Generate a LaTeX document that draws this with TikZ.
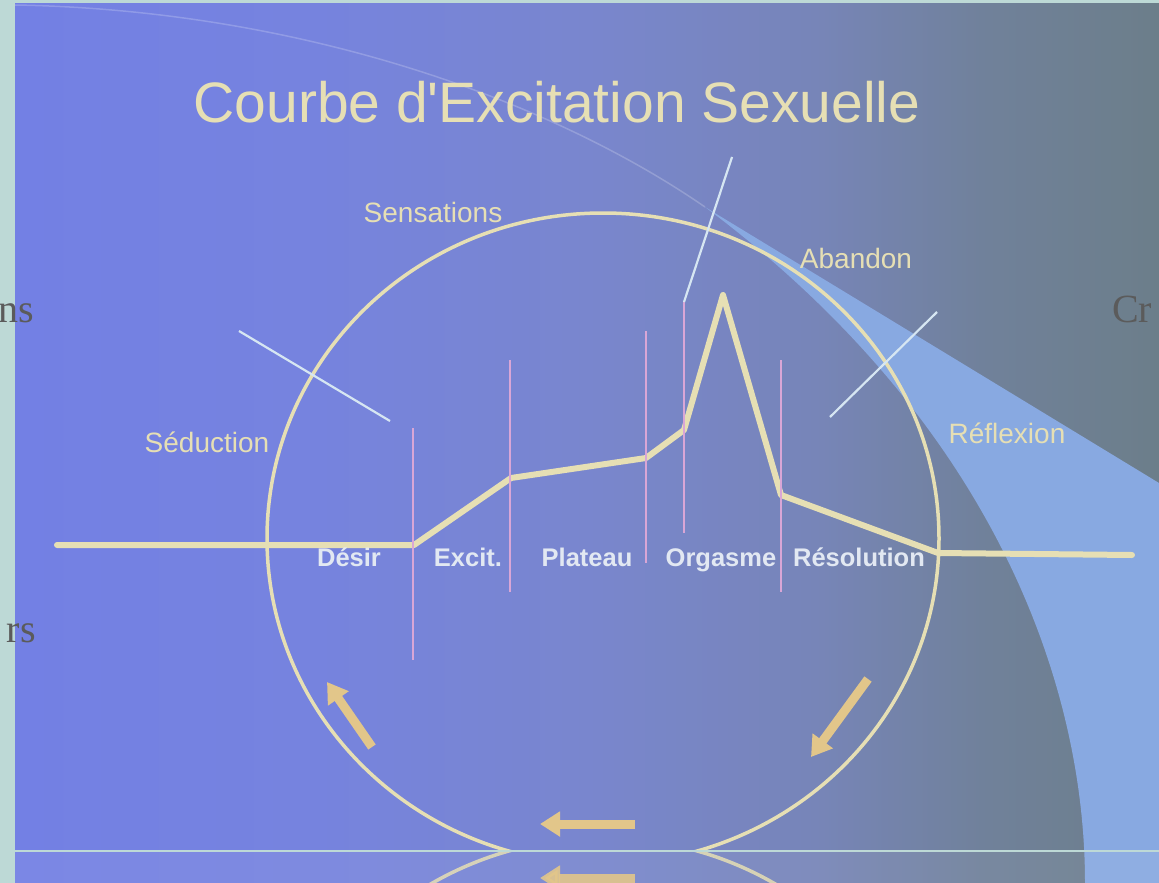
\documentclass[tikz,border=0pt]{standalone}
\usepackage{fontspec}
\setmainfont{Liberation Sans}
\newfontfamily\sidefont{Liberation Serif}
\usetikzlibrary{arrows.meta}

\definecolor{frameteal}{HTML}{BDD9D6}
\definecolor{slideblue}{HTML}{7380E4}
\definecolor{slideblueb}{HTML}{7683DF}
\definecolor{slidemid}{HTML}{7986CE}
\definecolor{slidemidb}{HTML}{7785B8}
\definecolor{slidegreyb}{HTML}{70819A}
\definecolor{slidegrey}{HTML}{6C7E8A}
\definecolor{swooshblue}{HTML}{88A9E1}
\definecolor{cream}{HTML}{E6DFB4}
\definecolor{phasepink}{HTML}{D9A6D6}
\definecolor{tickwhite}{HTML}{D6E6F2}
\definecolor{labelwhite}{HTML}{E2E8F2}
\definecolor{arrowtan}{HTML}{E2C68A}
\definecolor{sidegrey}{HTML}{5B5B5B}

% visible part of a TikZ shading runs from 25bp to 75bp
\pgfdeclarehorizontalshading{slidebg}{100bp}{color(0bp)=(slideblue); color(25bp)=(slideblue);
  color(37.5bp)=(slideblueb); color(50bp)=(slidemid); color(60bp)=(slidemidb);
  color(67.5bp)=(slidegreyb); color(75bp)=(slidegrey); color(100bp)=(slidegrey)}

\tikzset{
  titletext/.style={text=cream, font=\fontsize{57}{60}\selectfont, inner sep=0pt},
  labeltext/.style={text=cream, font=\fontsize{28}{30}\selectfont, inner sep=0pt},
  phasetext/.style={text=labelwhite, font=\fontsize{25.5}{28}\selectfont\bfseries, inner sep=0pt},
  phaseline/.style={draw=phasepink, line width=2.5pt},
  tickline/.style={draw=tickwhite, line width=2.2pt},
  curveline/.style={draw=cream, line width=6pt, line join=round, line cap=round},
  cyclearrow/.style={draw=arrowtan, line width=9pt, -{Triangle[length=20pt,width=24pt]}},
  sidetext/.style={text=sidegrey, font=\sidefont\fontsize{40}{42}\selectfont, inner sep=0pt}
}

\begin{document}
\begin{tikzpicture}[x=1pt,y=-1pt]
\useasboundingbox (0,0) rectangle (1159,883);

% Frame and slide background
\fill[frameteal] (0,0) rectangle (1159,883);
\shade[shading=slidebg] (15,4) rectangle (1159,883);

% Swoosh on the right
\fill[swooshblue] (705,207) -- (1159,483) -- (1159,883) -- (1085,883)
  .. controls (1085,680) and (990,420) .. (705,207) -- cycle;
\draw[white, opacity=0.2, line width=1.5pt] (15,5) .. controls (300,10) and (550,100) .. (705,207);

\begin{scope}
\clip (15,4) rectangle (1159,851);

% Cycle ellipse
\draw[cream, line width=3.5pt] (603,538.5) ellipse [x radius=336, y radius=325.5];

% Points of the excitation curve
\coordinate (c0) at (57,545);
\coordinate (c1) at (414,545);
\coordinate (c2) at (511,478);
\coordinate (c3) at (646,458);
\coordinate (c4) at (684,430);
\coordinate (c5) at (723,295);
\coordinate (c6) at (781,495);
\coordinate (c7) at (938,553);
\coordinate (c8) at (1132,555);

% Drawing the excitation curve
\draw[curveline] (c0) -- (c1) -- (c2) -- (c3) -- (c4) -- (c5) -- (c6) -- (c7) -- (c8);

% Phase separators
\coordinate (desirtop) at (413,428);     \coordinate (desirbot) at (413,660);
\coordinate (excittop) at (510,360);     \coordinate (excitbot) at (510,592);
\coordinate (plateautop) at (646,331);   \coordinate (plateaubot) at (646,563);
\coordinate (orgasmetop) at (684,302);   \coordinate (orgasmebot) at (684,533);
\coordinate (resoltop) at (781,360);     \coordinate (resolbot) at (781,592);
\draw[phaseline] (desirtop) -- (desirbot);
\draw[phaseline] (excittop) -- (excitbot);
\draw[phaseline] (plateautop) -- (plateaubot);
\draw[phaseline] (orgasmetop) -- (orgasmebot);
\draw[phaseline] (resoltop) -- (resolbot);

% Crossing ticks
\coordinate (seductick) at (239,331);  \coordinate (seductickend) at (390,421);
\coordinate (orgasmetick) at (732,157);
\coordinate (reflextick) at (937,312); \coordinate (reflextickend) at (830,417);
\draw[tickline] (seductick) -- (seductickend);
\draw[tickline] (orgasmetop) -- (orgasmetick);
\draw[tickline] (reflextick) -- (reflextickend);

% Title
\node[titletext, anchor=base] (title) at (557,122) {Courbe d\textquotesingle Excitation Sexuelle};

% Marking the outer labels
\node[labeltext, anchor=base] (sensations) at (433,222) {Sensations};
\node[labeltext, anchor=base] (abandon) at (856,268) {Abandon};
\node[labeltext, anchor=base] (seduction) at (207,452) {Séduction};
\node[labeltext, anchor=base] (reflexion) at (1007,443) {Réflexion};

% Marking the phases
\node[phasetext, anchor=base] (desir) at (349,566) {Désir};
\node[phasetext, anchor=base] (excit) at (468,566) {Excit.};
\node[phasetext, anchor=base] (plateau) at (587,566) {Plateau};
\node[phasetext, anchor=base] (orgasme) at (721,566) {Orgasme};
\node[phasetext, anchor=base] (resolution) at (859,566) {Résolution};

% Cycle arrows
\coordinate (leftarrowtail) at (372,747);   \coordinate (leftarrowtip) at (327,682);
\coordinate (rightarrowtail) at (868,679);  \coordinate (rightarrowtip) at (811,757);
\coordinate (lowarrowtail) at (635,824);    \coordinate (lowarrowtip) at (540,824);
\draw[cyclearrow] (leftarrowtail) -- (leftarrowtip);
\draw[cyclearrow] (rightarrowtail) -- (rightarrowtip);
\draw[cyclearrow] (lowarrowtail) -- (lowarrowtip);
\end{scope}

% Reflection below the slide
\begin{scope}
\clip (15,852) rectangle (1159,883);
\fill[white, opacity=0.06] (15,852) rectangle (1159,883);
\draw[cream, line width=3.5pt, opacity=0.85] (603,1163.5) ellipse [x radius=336, y radius=325.5];
\coordinate (reflarrowtail) at (635,878);   \coordinate (reflarrowtip) at (540,878);
\draw[cyclearrow, opacity=0.9] (reflarrowtail) -- (reflarrowtip);
\end{scope}
\draw[frameteal, line width=2pt] (15,851) -- (1159,851);

% Cut side texts
\node[sidetext, anchor=base east] (leftupper) at (34,322) {ns};
\node[sidetext, anchor=base east] (leftlower) at (36,642) {rs};
\node[sidetext, anchor=base west] (rightupper) at (1112,322) {Cr};
\end{tikzpicture}
\end{document}
